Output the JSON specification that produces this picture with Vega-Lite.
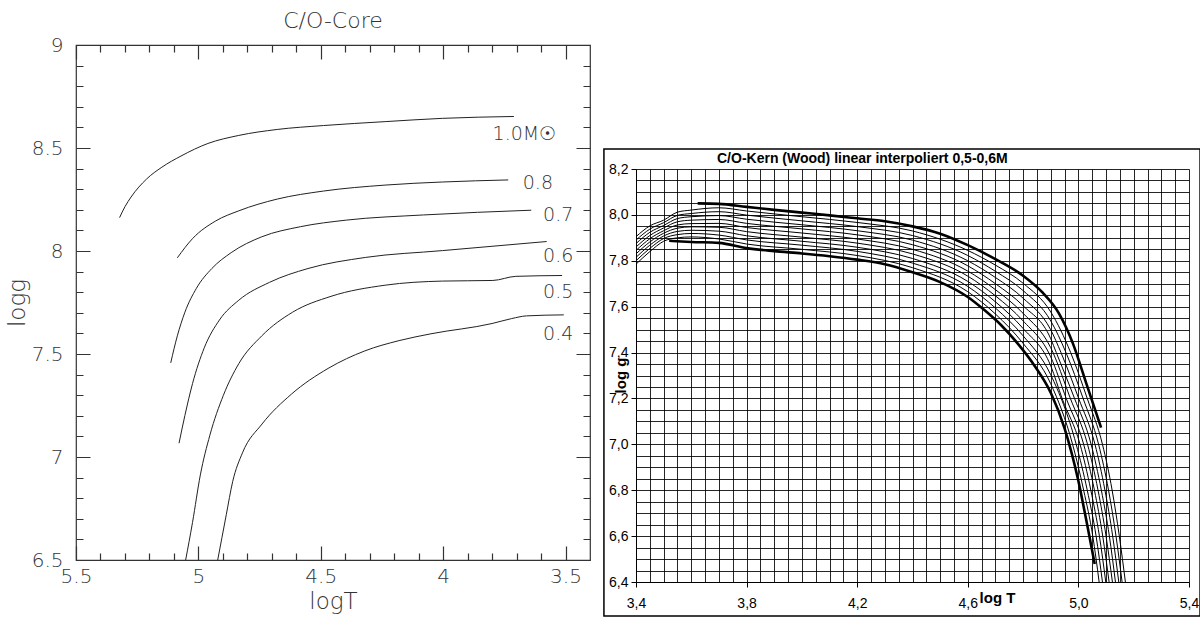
{
  "$schema": "https://vega.github.io/schema/vega-lite/v6.json",
  "background": "white",
  "padding": {"left": 5, "top": 9, "right": 0, "bottom": 0},
  "spacing": 12,
  "datasets": {
    "left": [
      {"mass":"1.0","logT":5.322,"logg":8.162},{"mass":"1.0","logT":5.30,"logg":8.215},{"mass":"1.0","logT":5.275,"logg":8.262},{"mass":"1.0","logT":5.212,"logg":8.349},{"mass":"1.0","logT":5.149,"logg":8.407},{"mass":"1.0","logT":5.071,"logg":8.461},{"mass":"1.0","logT":4.961,"logg":8.522},{"mass":"1.0","logT":4.835,"logg":8.561},{"mass":"1.0","logT":4.678,"logg":8.590},{"mass":"1.0","logT":4.489,"logg":8.609},{"mass":"1.0","logT":4.237,"logg":8.628},{"mass":"1.0","logT":4.002,"logg":8.644},{"mass":"1.0","logT":3.711,"logg":8.653},
      {"mass":"0.8","logT":5.086,"logg":7.967},{"mass":"0.8","logT":5.024,"logg":8.060},{"mass":"0.8","logT":4.929,"logg":8.146},{"mass":"0.8","logT":4.835,"logg":8.195},{"mass":"0.8","logT":4.678,"logg":8.252},{"mass":"0.8","logT":4.489,"logg":8.291},{"mass":"0.8","logT":4.237,"logg":8.320},{"mass":"0.8","logT":4.002,"logg":8.335},{"mass":"0.8","logT":3.734,"logg":8.345},
      {"mass":"0.7","logT":5.113,"logg":7.457},{"mass":"0.7","logT":5.086,"logg":7.588},{"mass":"0.7","logT":5.055,"logg":7.703},{"mass":"0.7","logT":5.008,"logg":7.819},{"mass":"0.7","logT":4.945,"logg":7.915},{"mass":"0.7","logT":4.866,"logg":7.992},{"mass":"0.7","logT":4.741,"logg":8.069},{"mass":"0.7","logT":4.583,"logg":8.118},{"mass":"0.7","logT":4.395,"logg":8.150},{"mass":"0.7","logT":4.080,"logg":8.175},{"mass":"0.7","logT":3.640,"logg":8.198},
      {"mass":"0.6","logT":5.079,"logg":7.067},{"mass":"0.6","logT":5.055,"logg":7.202},{"mass":"0.6","logT":5.024,"logg":7.356},{"mass":"0.6","logT":4.976,"logg":7.530},{"mass":"0.6","logT":4.914,"logg":7.665},{"mass":"0.6","logT":4.835,"logg":7.761},{"mass":"0.6","logT":4.709,"logg":7.848},{"mass":"0.6","logT":4.552,"logg":7.915},{"mass":"0.6","logT":4.316,"logg":7.969},{"mass":"0.6","logT":4.002,"logg":8.002},{"mass":"0.6","logT":3.577,"logg":8.046},
      {"mass":"0.5","logT":5.052,"logg":6.5},{"mass":"0.5","logT":5.024,"logg":6.682},{"mass":"0.5","logT":4.992,"logg":6.913},{"mass":"0.5","logT":4.953,"logg":7.106},{"mass":"0.5","logT":4.898,"logg":7.299},{"mass":"0.5","logT":4.835,"logg":7.453},{"mass":"0.5","logT":4.741,"logg":7.588},{"mass":"0.5","logT":4.615,"logg":7.703},{"mass":"0.5","logT":4.458,"logg":7.780},{"mass":"0.5","logT":4.237,"logg":7.834},{"mass":"0.5","logT":4.002,"logg":7.854},{"mass":"0.5","logT":3.797,"logg":7.857},{"mass":"0.5","logT":3.703,"logg":7.877},{"mass":"0.5","logT":3.514,"logg":7.881},
      {"mass":"0.4","logT":4.921,"logg":6.5},{"mass":"0.4","logT":4.886,"logg":6.72},{"mass":"0.4","logT":4.86,"logg":6.88},{"mass":"0.4","logT":4.82,"logg":7.02},{"mass":"0.4","logT":4.74,"logg":7.16},{"mass":"0.4","logT":4.62,"logg":7.305},{"mass":"0.4","logT":4.47,"logg":7.43},{"mass":"0.4","logT":4.32,"logg":7.515},{"mass":"0.4","logT":4.18,"logg":7.565},{"mass":"0.4","logT":4.05,"logg":7.598},{"mass":"0.4","logT":3.80,"logg":7.648},{"mass":"0.4","logT":3.72,"logg":7.672},{"mass":"0.4","logT":3.66,"logg":7.685},{"mass":"0.4","logT":3.507,"logg":7.690}
    ],
    "leftLabels": [
      {"label":"1.0M☉","logT":3.668,"logg":8.570},
      {"label":"0.8","logT":3.613,"logg":8.328},
      {"label":"0.7","logT":3.530,"logg":8.173},
      {"label":"0.6","logT":3.530,"logg":7.977},
      {"label":"0.5","logT":3.530,"logg":7.800},
      {"label":"0.4","logT":3.530,"logg":7.595}
    ],
    "right": [
      {"m":0.5,"t":3.52,"g":7.887},{"m":0.5,"t":3.6,"g":7.882},{"m":0.5,"t":3.7,"g":7.878},{"m":0.5,"t":3.8,"g":7.855},{"m":0.5,"t":3.9,"g":7.842},{"m":0.5,"t":4.0,"g":7.832},{"m":0.5,"t":4.1,"g":7.82},{"m":0.5,"t":4.2,"g":7.805},{"m":0.5,"t":4.3,"g":7.785},{"m":0.5,"t":4.4,"g":7.75},{"m":0.5,"t":4.5,"g":7.707},{"m":0.5,"t":4.6,"g":7.642},{"m":0.5,"t":4.66,"g":7.585},{"m":0.5,"t":4.72,"g":7.52},{"m":0.5,"t":4.78,"g":7.44},{"m":0.5,"t":4.84,"g":7.345},{"m":0.5,"t":4.9,"g":7.225},{"m":0.5,"t":4.95,"g":7.07},{"m":0.5,"t":5.0,"g":6.84},{"m":0.5,"t":5.03,"g":6.66},{"m":0.5,"t":5.059,"g":6.478},
      {"m":0.6,"t":3.623,"g":8.05},{"m":0.6,"t":3.7,"g":8.048},{"m":0.6,"t":3.8,"g":8.035},{"m":0.6,"t":3.9,"g":8.022},{"m":0.6,"t":4.0,"g":8.01},{"m":0.6,"t":4.1,"g":7.998},{"m":0.6,"t":4.2,"g":7.985},{"m":0.6,"t":4.3,"g":7.972},{"m":0.6,"t":4.4,"g":7.95},{"m":0.6,"t":4.5,"g":7.918},{"m":0.6,"t":4.6,"g":7.868},{"m":0.6,"t":4.7,"g":7.807},{"m":0.6,"t":4.8,"g":7.735},{"m":0.6,"t":4.87,"g":7.662},{"m":0.6,"t":4.93,"g":7.57},{"m":0.6,"t":4.98,"g":7.44},{"m":0.6,"t":5.03,"g":7.26},{"m":0.6,"t":5.082,"g":7.073},
      {"m":0.51,"t":3.4,"g":7.785},{"m":0.51,"t":3.45,"g":7.84},{"m":0.51,"t":3.5,"g":7.885},{"m":0.51,"t":3.55,"g":7.9},{"m":0.51,"t":3.6,"g":7.904},{"m":0.51,"t":3.7,"g":7.895},{"m":0.51,"t":3.8,"g":7.873},{"m":0.51,"t":4.0,"g":7.85},{"m":0.51,"t":4.2,"g":7.823},{"m":0.51,"t":4.4,"g":7.77},{"m":0.51,"t":4.6,"g":7.665},{"m":0.51,"t":4.7,"g":7.568},{"m":0.51,"t":4.8,"g":7.44},{"m":0.51,"t":4.9,"g":7.264},{"m":0.51,"t":4.979,"g":7.0},{"m":0.51,"t":5.019,"g":6.8},{"m":0.51,"t":5.052,"g":6.6},{"m":0.51,"t":5.075,"g":6.4},
      {"m":0.52,"t":3.4,"g":7.8},{"m":0.52,"t":3.45,"g":7.854},{"m":0.52,"t":3.5,"g":7.897},{"m":0.52,"t":3.55,"g":7.914},{"m":0.52,"t":3.6,"g":7.919},{"m":0.52,"t":3.7,"g":7.912},{"m":0.52,"t":3.8,"g":7.891},{"m":0.52,"t":4.0,"g":7.868},{"m":0.52,"t":4.2,"g":7.841},{"m":0.52,"t":4.4,"g":7.79},{"m":0.52,"t":4.6,"g":7.688},{"m":0.52,"t":4.7,"g":7.594},{"m":0.52,"t":4.8,"g":7.473},{"m":0.52,"t":4.9,"g":7.303},{"m":0.52,"t":4.992,"g":7.0},{"m":0.52,"t":5.032,"g":6.8},{"m":0.52,"t":5.064,"g":6.6},{"m":0.52,"t":5.087,"g":6.4},
      {"m":0.53,"t":3.4,"g":7.815},{"m":0.53,"t":3.45,"g":7.868},{"m":0.53,"t":3.5,"g":7.908},{"m":0.53,"t":3.55,"g":7.928},{"m":0.53,"t":3.6,"g":7.933},{"m":0.53,"t":3.7,"g":7.929},{"m":0.53,"t":3.8,"g":7.909},{"m":0.53,"t":4.0,"g":7.885},{"m":0.53,"t":4.2,"g":7.859},{"m":0.53,"t":4.4,"g":7.81},{"m":0.53,"t":4.6,"g":7.71},{"m":0.53,"t":4.7,"g":7.621},{"m":0.53,"t":4.8,"g":7.505},{"m":0.53,"t":4.9,"g":7.342},{"m":0.53,"t":4.941,"g":7.2},{"m":0.53,"t":5.006,"g":7.0},{"m":0.53,"t":5.045,"g":6.8},{"m":0.53,"t":5.076,"g":6.6},{"m":0.53,"t":5.099,"g":6.4},
      {"m":0.54,"t":3.4,"g":7.83},{"m":0.54,"t":3.45,"g":7.882},{"m":0.54,"t":3.5,"g":7.92},{"m":0.54,"t":3.55,"g":7.942},{"m":0.54,"t":3.6,"g":7.948},{"m":0.54,"t":3.7,"g":7.946},{"m":0.54,"t":3.8,"g":7.927},{"m":0.54,"t":4.0,"g":7.903},{"m":0.54,"t":4.2,"g":7.877},{"m":0.54,"t":4.4,"g":7.83},{"m":0.54,"t":4.6,"g":7.733},{"m":0.54,"t":4.7,"g":7.647},{"m":0.54,"t":4.8,"g":7.538},{"m":0.54,"t":4.9,"g":7.381},{"m":0.54,"t":4.956,"g":7.2},{"m":0.54,"t":5.019,"g":7.0},{"m":0.54,"t":5.058,"g":6.8},{"m":0.54,"t":5.088,"g":6.6},{"m":0.54,"t":5.111,"g":6.4},
      {"m":0.55,"t":3.4,"g":7.845},{"m":0.55,"t":3.45,"g":7.896},{"m":0.55,"t":3.5,"g":7.931},{"m":0.55,"t":3.55,"g":7.956},{"m":0.55,"t":3.6,"g":7.962},{"m":0.55,"t":3.7,"g":7.963},{"m":0.55,"t":3.8,"g":7.945},{"m":0.55,"t":4.0,"g":7.921},{"m":0.55,"t":4.2,"g":7.895},{"m":0.55,"t":4.4,"g":7.85},{"m":0.55,"t":4.6,"g":7.755},{"m":0.55,"t":4.7,"g":7.674},{"m":0.55,"t":4.8,"g":7.571},{"m":0.55,"t":4.9,"g":7.421},{"m":0.55,"t":4.971,"g":7.2},{"m":0.55,"t":5.033,"g":7.0},{"m":0.55,"t":5.071,"g":6.8},{"m":0.55,"t":5.1,"g":6.6},{"m":0.55,"t":5.123,"g":6.4},
      {"m":0.56,"t":3.4,"g":7.86},{"m":0.56,"t":3.45,"g":7.91},{"m":0.56,"t":3.5,"g":7.943},{"m":0.56,"t":3.55,"g":7.97},{"m":0.56,"t":3.6,"g":7.977},{"m":0.56,"t":3.7,"g":7.98},{"m":0.56,"t":3.8,"g":7.963},{"m":0.56,"t":4.0,"g":7.939},{"m":0.56,"t":4.2,"g":7.913},{"m":0.56,"t":4.4,"g":7.87},{"m":0.56,"t":4.6,"g":7.778},{"m":0.56,"t":4.7,"g":7.7},{"m":0.56,"t":4.8,"g":7.604},{"m":0.56,"t":4.9,"g":7.46},{"m":0.56,"t":4.92,"g":7.4},{"m":0.56,"t":4.986,"g":7.2},{"m":0.56,"t":5.046,"g":7.0},{"m":0.56,"t":5.083,"g":6.8},{"m":0.56,"t":5.112,"g":6.6},{"m":0.56,"t":5.134,"g":6.4},
      {"m":0.57,"t":3.4,"g":7.875},{"m":0.57,"t":3.45,"g":7.924},{"m":0.57,"t":3.5,"g":7.954},{"m":0.57,"t":3.55,"g":7.984},{"m":0.57,"t":3.6,"g":7.992},{"m":0.57,"t":3.7,"g":7.997},{"m":0.57,"t":3.8,"g":7.981},{"m":0.57,"t":4.0,"g":7.957},{"m":0.57,"t":4.2,"g":7.931},{"m":0.57,"t":4.4,"g":7.89},{"m":0.57,"t":4.6,"g":7.8},{"m":0.57,"t":4.7,"g":7.727},{"m":0.57,"t":4.8,"g":7.637},{"m":0.57,"t":4.9,"g":7.499},{"m":0.57,"t":4.937,"g":7.4},{"m":0.57,"t":5.001,"g":7.2},{"m":0.57,"t":5.06,"g":7.0},{"m":0.57,"t":5.096,"g":6.8},{"m":0.57,"t":5.124,"g":6.6},{"m":0.57,"t":5.146,"g":6.4},
      {"m":0.58,"t":3.4,"g":7.89},{"m":0.58,"t":3.45,"g":7.938},{"m":0.58,"t":3.5,"g":7.966},{"m":0.58,"t":3.55,"g":7.998},{"m":0.58,"t":3.6,"g":8.006},{"m":0.58,"t":3.7,"g":8.014},{"m":0.58,"t":3.8,"g":7.999},{"m":0.58,"t":4.0,"g":7.974},{"m":0.58,"t":4.2,"g":7.949},{"m":0.58,"t":4.4,"g":7.91},{"m":0.58,"t":4.6,"g":7.823},{"m":0.58,"t":4.7,"g":7.754},{"m":0.58,"t":4.8,"g":7.67},{"m":0.58,"t":4.9,"g":7.538},{"m":0.58,"t":4.955,"g":7.4},{"m":0.58,"t":5.017,"g":7.2},{"m":0.58,"t":5.073,"g":7.0},{"m":0.58,"t":5.109,"g":6.8},{"m":0.58,"t":5.136,"g":6.6},{"m":0.58,"t":5.158,"g":6.4},
      {"m":0.59,"t":3.4,"g":7.905},{"m":0.59,"t":3.45,"g":7.952},{"m":0.59,"t":3.5,"g":7.977},{"m":0.59,"t":3.55,"g":8.012},{"m":0.59,"t":3.6,"g":8.021},{"m":0.59,"t":3.7,"g":8.031},{"m":0.59,"t":3.8,"g":8.017},{"m":0.59,"t":4.0,"g":7.992},{"m":0.59,"t":4.2,"g":7.967},{"m":0.59,"t":4.4,"g":7.93},{"m":0.59,"t":4.6,"g":7.845},{"m":0.59,"t":4.7,"g":7.781},{"m":0.59,"t":4.8,"g":7.702},{"m":0.59,"t":4.9,"g":7.577},{"m":0.59,"t":4.972,"g":7.4},{"m":0.59,"t":5.032,"g":7.2},{"m":0.59,"t":5.087,"g":7.0},{"m":0.59,"t":5.122,"g":6.8},{"m":0.59,"t":5.148,"g":6.6},{"m":0.59,"t":5.17,"g":6.4}
    ]
  },
  "hconcat": [
    {
      "width": 514,
      "height": 515,
      "title": {"text": "C/O-Core", "font": "DejaVu Sans", "fontSize": 22, "fontWeight": 200, "color": "#333", "offset": 2},
      "view": {"stroke": "#333", "strokeWidth": 1.2},
      "layer": [
        {
          "data": {"name": "left"},
          "mark": {"type": "line", "color": "#222", "strokeWidth": 1, "interpolate": "monotone", "clip": true},
          "encoding": {
            "x": {"field": "logT", "type": "quantitative",
              "scale": {"domain": [3.4, 5.5], "reverse": true, "nice": false, "zero": false},
              "axis": {
                "values": [3.5,3.6,3.7,3.8,3.9,4,4.1,4.2,4.3,4.4,4.5,4.6,4.7,4.8,4.9,5,5.1,5.2,5.3,5.4,5.5],
                "tickCount": 1000,
                "title": "logT", "titleFont": "DejaVu Sans", "titleFontSize": 23, "titleFontWeight": 200, "titleColor": "#333", "titlePadding": 4,
                "labelFont": "DejaVu Sans", "labelFontSize": 20, "labelFontWeight": 200, "labelColor": "#333", "labelPadding": 6,
                "labelOverlap": false, "labelFlush": false,
                "labelExpr": "abs(datum.value*2-round(datum.value*2))<0.01 ? format(datum.value,'~g') : ''",
                "ticks": false, "tickSize": 0, "domain": false,
                "grid": true, "gridColor": "#333", "gridWidth": 1.2,
                "gridDash": {"condition": {"test": "abs(datum.value*2-round(datum.value*2))<0.01", "value": [14, 487, 14, 2000]}, "value": [7, 501, 7, 2000]}
              }
            },
            "y": {"field": "logg", "type": "quantitative",
              "scale": {"domain": [6.5, 9], "nice": false, "zero": false},
              "axis": {
                "values": [6.5,6.6,6.7,6.8,6.9,7,7.1,7.2,7.3,7.4,7.5,7.6,7.7,7.8,7.9,8,8.1,8.2,8.3,8.4,8.5,8.6,8.7,8.8,8.9,9],
                "tickCount": 1000,
                "title": "logg", "titleFont": "DejaVu Sans", "titleFontSize": 23, "titleFontWeight": 200, "titleColor": "#333", "titlePadding": 2,
                "labelFont": "DejaVu Sans", "labelFontSize": 20, "labelFontWeight": 200, "labelColor": "#333", "labelPadding": 13,
                "labelOverlap": false, "labelFlush": false,
                "labelExpr": "abs(datum.value*2-round(datum.value*2))<0.01 ? format(datum.value,'~g') : ''",
                "ticks": false, "tickSize": 0, "domain": false,
                "grid": true, "gridColor": "#333", "gridWidth": 1.2,
                "gridDash": {"condition": {"test": "abs(datum.value*2-round(datum.value*2))<0.01", "value": [14, 486, 14, 2000]}, "value": [7, 500, 7, 2000]}
              }
            },
            "detail": {"field": "mass", "type": "nominal"}
          }
        },
        {
          "data": {"name": "leftLabels"},
          "mark": {"type": "text", "font": "DejaVu Sans", "fontSize": 19, "fontWeight": 200, "color": "#333", "align": "center", "baseline": "middle"},
          "encoding": {
            "x": {"field": "logT", "type": "quantitative"},
            "y": {"field": "logg", "type": "quantitative"},
            "text": {"field": "label", "type": "nominal"}
          }
        }
      ]
    },
    {
      "spacing": 0,
      "vconcat": [
        {
          "width": 20,
          "height": 103,
          "data": {"values": []},
          "mark": "point",
          "view": {"stroke": null}
        },
        {
          "width": 553,
          "height": 413,
          "title": {"text": "C/O-Kern (Wood) linear interpoliert 0,5-0,6M", "anchor": "start", "frame": "group", "dx": 81, "offset": -18, "font": "Liberation Sans", "fontSize": 14, "fontWeight": "bold", "color": "#000"},
          "view": {"stroke": null},
          "layer": [
            {
              "data": {"name": "right"},
              "transform": [{"filter": "datum.m != 0.5 && datum.m != 0.6"}],
              "mark": {"type": "line", "color": "#000", "strokeWidth": 1, "interpolate": "monotone", "clip": true},
              "encoding": {
                "x": {"field": "t", "type": "quantitative",
                  "scale": {"domain": [3.4, 5.4], "nice": false, "zero": false},
                  "axis": {
                    "values": [3.4,3.45,3.5,3.55,3.6,3.65,3.7,3.75,3.8,3.85,3.9,3.95,4,4.05,4.1,4.15,4.2,4.25,4.3,4.35,4.4,4.45,4.5,4.55,4.6,4.65,4.7,4.75,4.8,4.85,4.9,4.95,5,5.05,5.1,5.15,5.2,5.25,5.3,5.35,5.4],
                    "tickCount": 1000,
                    "title": "log T", "titleFont": "Liberation Sans", "titleFontSize": 15, "titleFontWeight": "bold", "titleColor": "#000",
                    "titleX": 361, "titleY": 15, "titleBaseline": "middle", "titleAlign": "center",
                    "labelFont": "Liberation Sans", "labelFontSize": 14, "labelColor": "#000", "labelPadding": 9,
                    "labelOverlap": false, "labelFlush": false,
                    "labelExpr": "abs((datum.value-3.4)/0.4-round((datum.value-3.4)/0.4))<0.01 ? replace(format(datum.value,'.1f'),'.',',') : ''",
                    "domain": true, "domainColor": "#000", "domainWidth": 1,
                    "ticks": true, "tickSize": 5, "tickColor": "#000",
                    "tickOpacity": {"condition": {"test": "abs((datum.value-3.4)/0.4-round((datum.value-3.4)/0.4))<0.01", "value": 1}, "value": 0},
                    "grid": true, "gridColor": "#000", "gridWidth": 1, "gridOpacity": 0.85
                  }
                },
                "y": {"field": "g", "type": "quantitative",
                  "scale": {"domain": [6.4, 8.2], "nice": false, "zero": false},
                  "axis": {
                    "values": [6.4,6.45,6.5,6.55,6.6,6.65,6.7,6.75,6.8,6.85,6.9,6.95,7,7.05,7.1,7.15,7.2,7.25,7.3,7.35,7.4,7.45,7.5,7.55,7.6,7.65,7.7,7.75,7.8,7.85,7.9,7.95,8,8.05,8.1,8.15,8.2],
                    "tickCount": 1000,
                    "title": "log g", "titleFont": "Liberation Sans", "titleFontSize": 15, "titleFontWeight": "bold", "titleColor": "#000",
                    "titleX": -16, "titleY": 206, "titleBaseline": "middle", "titleAlign": "center", "titleAngle": -90,
                    "labelFont": "Liberation Sans", "labelFontSize": 14, "labelColor": "#000", "labelPadding": 3,
                    "labelOverlap": false, "labelFlush": false,
                    "labelExpr": "abs(datum.value/0.2-round(datum.value/0.2))<0.01 ? replace(format(datum.value,'.1f'),'.',',') : ''",
                    "domain": true, "domainColor": "#000", "domainWidth": 1,
                    "ticks": true, "tickSize": 5, "tickColor": "#000",
                    "tickOpacity": {"condition": {"test": "abs(datum.value/0.2-round(datum.value/0.2))<0.01", "value": 1}, "value": 0},
                    "grid": true, "gridColor": "#000", "gridWidth": 1, "gridOpacity": 0.85
                  }
                },
                "detail": {"field": "m", "type": "nominal"}
              }
            },
            {
              "data": {"name": "right"},
              "transform": [{"filter": "datum.m == 0.5 || datum.m == 0.6"}],
              "mark": {"type": "line", "color": "#000", "strokeWidth": 2.6, "interpolate": "monotone", "clip": true},
              "encoding": {
                "x": {"field": "t", "type": "quantitative"},
                "y": {"field": "g", "type": "quantitative"},
                "detail": {"field": "m", "type": "nominal"}
              }
            },
            {
              "data": {"values": [{}]},
              "mark": {"type": "rect", "filled": false, "color": "#000", "strokeWidth": 1.5, "clip": false},
              "encoding": {
                "x": {"datum": 3.284, "type": "quantitative"},
                "x2": {"datum": 5.44},
                "y": {"datum": 8.287, "type": "quantitative"},
                "y2": {"datum": 6.252}
              }
            }
          ]
        }
      ]
    }
  ]
}
